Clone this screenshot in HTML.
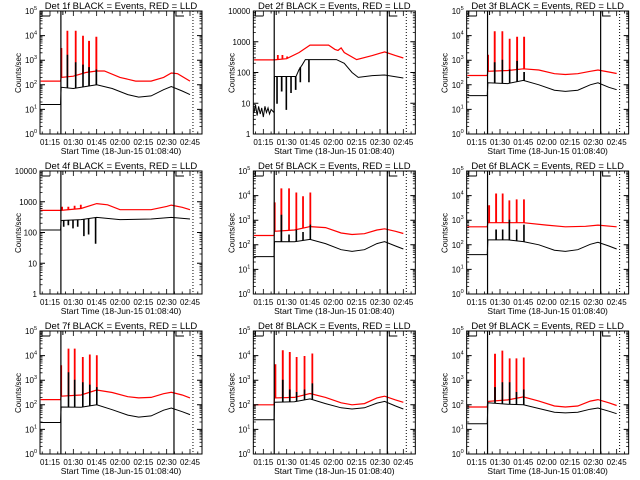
<!DOCTYPE html>
<html><head><meta charset="utf-8">
<style>
html,body{margin:0;padding:0;background:#fff;}
svg{display:block;font-family:"Liberation Sans",sans-serif;}
</style></head>
<body>
<svg id="chart" width="640" height="480" viewBox="0 0 640 480" xmlns="http://www.w3.org/2000/svg"></svg>
<script>
// ---- data (times in minutes after 01:00, values are log10 counts/sec) ----
const panelTitles = ["Det 1f BLACK = Events, RED = LLD","Det 2f BLACK = Events, RED = LLD","Det 3f BLACK = Events, RED = LLD",
  "Det 4f BLACK = Events, RED = LLD","Det 5f BLACK = Events, RED = LLD","Det 6f BLACK = Events, RED = LLD",
  "Det 7f BLACK = Events, RED = LLD","Det 8f BLACK = Events, RED = LLD","Det 9f BLACK = Events, RED = LLD"];
const panelDecades = [5,4,5,4,5,5,5,5,5];
const panelLabelStyle = ["exp","num","exp","num","exp","exp","exp","exp","exp"];
const xTickLabels = ["01:15","01:30","01:45","02:00","02:15","02:30","02:45"];
const xTickTimes = [15,30,45,60,75,90,105];
const markerTimes = [22,94.7];
const dottedTime = 106.9;

const blackSeries = [
 [[9,1.2],[21.8,1.2],[22.2,1.9],[30,1.85],[40,1.95],[45,2.0],[55,1.85],[65,1.6],[72,1.5],[80,1.55],[88,1.8],[93,1.93],[100,1.75],[105,1.6]],
 [[9,0.7],[10,0.95],[11,0.6],[12,0.9],[13,0.65],[14,0.85],[15,0.55],[16,0.9],[17,0.7],[18,0.85],[19,0.65],[20,0.8],[21.8,0.7],[22.2,1.87],[36,1.87],[38,2.1],[40,2.25],[42,2.42],[62,2.42],[67,2.3],[72,2.0],[76,1.84],[85,1.9],[93,1.92],[105,1.82]],
 [[9,1.56],[21.8,1.56],[22.2,2.08],[35,2.05],[45,2.18],[55,2.0],[65,1.78],[72,1.73],[80,1.78],[88,2.0],[93,2.08],[100,1.9],[105,1.8]],
 [[9,2.08],[21.8,2.08],[22.2,2.39],[35,2.42],[45,2.49],[60,2.42],[80,2.44],[93,2.49],[105,2.44]],
 [[9,1.52],[21.8,1.52],[22.2,2.13],[35,2.12],[45,2.22],[55,2.05],[65,1.8],[72,1.73],[80,1.8],[88,2.05],[93,2.13],[100,1.95],[105,1.83]],
 [[9,1.6],[21.8,1.6],[22.2,2.2],[35,2.2],[45,2.13],[55,2.0],[65,1.78],[72,1.73],[80,1.8],[88,2.02],[93,2.1],[100,1.95],[105,1.83]],
 [[9,1.28],[21.8,1.28],[22.2,1.91],[35,1.9],[45,2.0],[55,1.8],[65,1.58],[72,1.5],[80,1.55],[88,1.78],[93,1.87],[100,1.72],[105,1.6]],
 [[9,1.39],[21.8,1.39],[22.2,2.1],[35,2.12],[45,2.24],[55,2.05],[65,1.88],[72,1.83],[80,1.88],[88,2.07],[93,2.14],[100,1.95],[105,1.83]],
 [[9,1.23],[21.8,1.23],[22.2,2.08],[35,2.02],[45,2.0],[55,1.85],[65,1.7],[72,1.67],[80,1.7],[88,1.82],[93,1.87],[100,1.74],[105,1.64]]
];
const redSeries = [
 [[9,2.15],[21.8,2.15],[22.2,2.3],[30,2.35],[38,2.5],[45,2.56],[50,2.56],[60,2.3],[70,2.15],[80,2.15],[88,2.3],[93,2.48],[97,2.45],[105,2.15]],
 [[9,2.41],[22,2.41],[30,2.45],[38,2.65],[45,2.89],[57,2.89],[61,2.75],[63,2.72],[65,2.8],[67,2.65],[75,2.42],[85,2.55],[93,2.67],[100,2.55],[105,2.47]],
 [[9,2.38],[21.8,2.38],[22.2,2.55],[35,2.58],[45,2.65],[55,2.6],[65,2.45],[72,2.42],[80,2.45],[88,2.55],[93,2.6],[100,2.52],[105,2.46]],
 [[9,2.72],[22,2.72],[35,2.78],[45,2.94],[52,2.9],[60,2.74],[80,2.74],[90,2.85],[93,2.89],[100,2.82],[105,2.74]],
 [[9,2.38],[21.8,2.38],[22.2,2.55],[35,2.6],[45,2.74],[55,2.7],[65,2.48],[72,2.42],[80,2.45],[88,2.6],[93,2.65],[100,2.55],[105,2.46]],
 [[9,2.73],[21.8,2.73],[22.2,2.9],[45,2.9],[60,2.8],[72,2.73],[85,2.75],[93,2.8],[105,2.73]],
 [[9,2.21],[21.8,2.21],[22.2,2.35],[35,2.4],[45,2.6],[55,2.5],[65,2.33],[72,2.28],[80,2.3],[88,2.45],[93,2.51],[100,2.4],[105,2.28]],
 [[9,2.0],[21.8,2.0],[22.2,2.28],[35,2.3],[45,2.46],[55,2.3],[65,2.08],[72,2.0],[80,2.05],[88,2.28],[93,2.35],[100,2.2],[105,2.1]],
 [[9,1.91],[21.8,1.91],[22.2,2.14],[35,2.2],[45,2.32],[55,2.15],[65,1.95],[72,1.91],[80,1.95],[88,2.15],[93,2.21],[100,2.08],[105,1.97]]
];
const redSpikeTimes = [
 [22.5,26.4,31.7,36.4,40.3,45],[24.5,27.5,30.5],[22.5,26.8,31.7,36.4,41.2,45.7],[23,27,31,35],
 [22.5,26.8,31.7,36.4,40.7,45.4],[23.2,27.7,31.9,36.2,40.9,45.6],[22.4,27.1,31.1,36.3,40.8,45.3],
 [23,27.7,32.2,36.6,41.7,46.7],[27,31.7,36.4,40.8,45.5]
];
const redSpikePeaks = [
 [3.47,4.17,4.17,3.97,3.76,3.93],[2.55,2.55,2.5],[3.2,4.15,4.15,3.85,3.93,3.93],[2.82,2.82,2.85,2.88],
 [3.7,4.27,4.27,4.1,3.95,4.1],[3.58,4.06,4.06,3.78,3.82,3.82],[3.58,4.26,4.26,3.92,4.02,3.99],
 [3.62,4.19,4.12,3.92,3.96,4.06],[4.05,4.18,3.86,3.86,3.9]
];
const blackSpikeTimes = [
 [26.4,31.7,36.4,40.3,45],[24,27,30,33,36,39,44.5],[26.8,31.7,36.4,41.2,45.7],[24,27,30,33,37,40,44.5],
 [26.8,31.7,36.4,40.7,45.4],[27.7,31.9,36.2,40.9,45.6],[27.1,31.1,36.3,40.8,45.3],
 [27.7,32.2,36.6,41.7,46.7],[27,31.7,36.4,40.8,45.5]
];
const blackSpikePeaks = [
 [3.2,2.9,2.8,2.7,2.6],[1.0,1.4,0.8,1.35,1.45,1.7,1.7],[2.9,3.0,2.6,2.95,2.5],[2.2,2.25,2.15,2.2,1.9,1.95,1.65],
 [3.2,2.4,2.6,2.5,2.8],[2.6,2.6,3.0,2.6,2.8],[3.3,3.0,2.9,2.8,2.7],
 [3.0,2.6,2.5,2.6,2.85],[2.7,2.9,2.9,2.5,2.6]
];

// ---- rendering ----
const NS="http://www.w3.org/2000/svg";
const svg=document.getElementById('chart');
function mk(tag,attrs,parent){const e=document.createElementNS(NS,tag);for(const k in attrs)e.setAttribute(k,attrs[k]);parent.appendChild(e);return e;}
const L=40,R=202,T=11,B=134;
function xs(t){return 50+(t-15)*(23.333/15);}
function interp(series,t){for(let i=0;i<series.length-1;i++){if(t>=series[i][0]&&t<=series[i+1][0]){const f=(t-series[i][0])/(series[i+1][0]-series[i][0]);return series[i][1]+f*(series[i+1][1]-series[i][1]);}}return series[series.length-1][1];}

for(let p=0;p<9;p++){
  const col=p%3,row=Math.floor(p/3);
  const g=mk('g',{transform:`translate(${(col*213.33).toFixed(2)},${row*160})`},svg);
  
  
  const dec=panelDecades[p];
  const ys=v=>B-v*(B-T)/dec;
  // title
  const tt=mk('text',{x:121,y:9,'font-size':'9.5','text-anchor':'middle',fill:'#000'},g);
  tt.textContent=panelTitles[p];
  
  
  // series
  const clip='clip'+p;
  const cp=mk('clipPath',{id:clip},g);mk('rect',{x:L,y:T,width:R-L,height:B-T},cp);
  const data=mk('g',{'clip-path':`url(#${clip})`},g);
  const rs=redSpikeTimes[p],rp=redSpikePeaks[p];
  for(let i=0;i<rs.length;i++){
    const base=interp(redSeries[p],rs[i]);
    const sp=mk('path',{d:`M${xs(rs[i]-0.4).toFixed(1)},${ys(base).toFixed(1)}V${ys(rp[i]).toFixed(1)}H${xs(rs[i]).toFixed(1)}V${ys(base).toFixed(1)}`,stroke:'#f00','stroke-width':'1.2',fill:'#f00'},data);
    
    
  }
  const rl=mk('polyline',{points:redSeries[p].map(d=>xs(d[0]).toFixed(1)+','+ys(d[1]).toFixed(1)).join(' '),fill:'none',stroke:'#f00','stroke-width':'1.2'},data);
  
  
  const bs=blackSpikeTimes[p],bp=blackSpikePeaks[p];
  for(let i=0;i<bs.length;i++){
    const base=interp(blackSeries[p],bs[i]);
    const sp=mk('path',{d:`M${xs(bs[i]-0.4).toFixed(1)},${ys(base).toFixed(1)}V${ys(bp[i]).toFixed(1)}H${xs(bs[i]).toFixed(1)}V${ys(base).toFixed(1)}`,stroke:'#000','stroke-width':'1',fill:'none'},data);
    
    
  }
  const bl=mk('polyline',{points:blackSeries[p].map(d=>xs(d[0]).toFixed(1)+','+ys(d[1]).toFixed(1)).join(' '),fill:'none',stroke:'#000','stroke-width':'1'},data);
  
  
  // markers
  markerTimes.forEach(t=>{const m=mk('line',{x1:xs(t),x2:xs(t),y1:T,y2:B,stroke:'#000','stroke-width':'1.2'},g);
    
    });
  const dm=mk('line',{x1:xs(dottedTime),x2:xs(dottedTime),y1:T,y2:B,stroke:'#000','stroke-width':'1','stroke-dasharray':'1,2'},g);
  
  
  mk('path',{d:`M42,${T}V16H50M${xs(22)+2},${T}V15M${xs(94.7)+2},${T}V16H${xs(94.7)+10}`,stroke:'#000',fill:'none','stroke-width':'1'},g);
  // box
  const box=mk('rect',{x:L,y:T,width:R-L,height:B-T,fill:'none',stroke:'#000','stroke-width':'1'},g);
  
  
  // y ticks
  for(let d=0;d<=dec;d++){
    const y=ys(d);
    mk('path',{d:`M${L},${y}h5M${R},${y}h-5`,stroke:'#000','stroke-width':'1'},g);
    if(d<dec){for(let m=2;m<10;m++){const yy=ys(d+Math.log10(m));mk('path',{d:`M${L},${yy}h2.5M${R},${yy}h-2.5`,stroke:'#000','stroke-width':'0.8'},g);}}
    const lt=mk('text',{x:37,y:y+3,'font-size':'8','text-anchor':'end',fill:'#000'},g);
    
    
    if(panelLabelStyle[p]==='num'){lt.textContent=String(Math.pow(10,d));}
    else{lt.textContent='10';const s=mk('tspan',{dy:'-4','font-size':'5.5'},lt);s.textContent=String(d);}
  }
  // x ticks
  for(let t=10;t<=110;t+=5){const x=xs(t);if(x<L||x>R)continue;const maj=(t%15===0);
    mk('path',{d:`M${x},${B}v-${maj?5:2.5}M${x},${T}v${maj?5:2.5}`,stroke:'#000','stroke-width':'0.8'},g);}
  xTickLabels.forEach((lab,i)=>{const tx=mk('text',{x:xs(xTickTimes[i]),y:145,'font-size':'8','text-anchor':'middle',fill:'#000'},g);
    tx.textContent=lab;
    
    });
  const xt=mk('text',{x:121,y:154,'font-size':'8.5','text-anchor':'middle',fill:'#000'},g);
  xt.textContent='Start Time (18-Jun-15 01:08:40)';
  
  
  const yt=mk('text',{x:0,y:0,'font-size':'8','text-anchor':'middle',fill:'#000',transform:'translate(21,73) rotate(-90)'},g);
  yt.textContent='Counts/sec';
  
  
}
</script>
</body></html>
